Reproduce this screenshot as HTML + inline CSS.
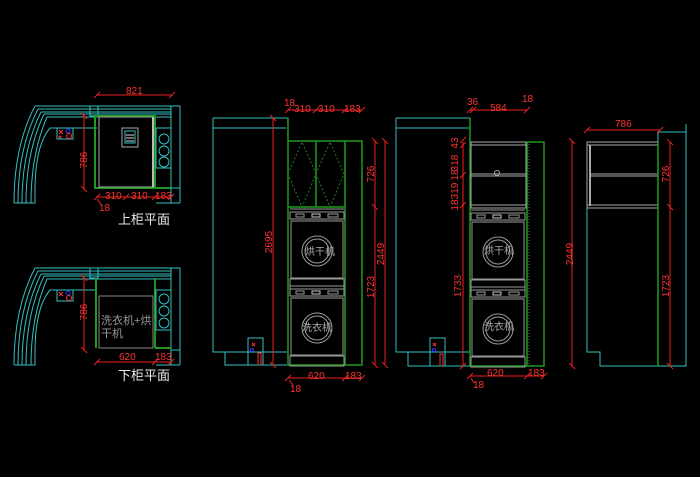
<!DOCTYPE html>
<html><head><meta charset="utf-8"><style>
html,body{margin:0;padding:0;background:#000;}
svg{display:block}
text{font-family:"Liberation Sans","Noto Sans CJK SC",sans-serif;}
</style></head><body>
<svg width="700" height="477" viewBox="0 0 700 477" xmlns="http://www.w3.org/2000/svg">
<rect width="700" height="477" fill="#000"/>
<defs>
<g id="mach" fill="none" stroke="#9a9a9a" stroke-width="1">
  <line x1="0" y1="0" x2="54" y2="0"/>
  <rect x="0" y="3" width="54" height="7"/>
  <rect x="6" y="5" width="8" height="3"/>
  <rect x="22" y="5" width="8" height="3" stroke="#ccc"/>
  <rect x="38" y="5" width="10" height="3"/>
  <rect x="1" y="12" width="52" height="57"/>
  <circle cx="27" cy="42" r="15"/>
  <circle cx="27" cy="42" r="12"/>
  <rect x="0" y="70" width="54" height="10"/>
</g>
<g id="plan" fill="none" stroke="#33c0c0" stroke-width="1">
  <path d="M35 0 H180 M38 3 H171 M41 6 H171 M44 8 H171 M47 11 H171"/>
  <line x1="171" y1="0" x2="171" y2="97"/>
  <line x1="180" y1="0" x2="180" y2="97"/>
  <line x1="156" y1="97" x2="180" y2="97"/>
  <rect x="90" y="0" width="8" height="10"/>
  <path d="M35 0 Q14 40 14 97"/>
  <path d="M38 3 Q18 42 18 97"/>
  <path d="M41 6 Q22 44 22 97"/>
  <path d="M44 8 Q26 46 26 97"/>
  <path d="M47 11 Q31 48 31 97"/>
  <path d="M14 97 H35 V85 Q35 40 50 22 H97"/>
  <rect x="57" y="22" width="16" height="11"/>
  <line x1="171" y1="82" x2="180" y2="82"/>
</g>
</defs>

<!-- Upper plan -->
<use href="#plan" x="0" y="106"/>
<g fill="none">
  <line x1="59" y1="130" x2="63" y2="134" stroke="#f33"/><line x1="63" y1="130" x2="59" y2="134" stroke="#f33"/>
  <circle cx="68" cy="131" r="2" stroke="#33f"/>
  <circle cx="69" cy="136" r="2.5" stroke="#f33"/>
  <circle cx="60" cy="137" r="1" stroke="#f33"/>
  <rect x="95" y="116" width="60" height="72" stroke="#1f9a1f" stroke-width="2"/>
  <rect x="99" y="117" width="54" height="70" stroke="#aaa"/>
  <line x1="155" y1="188" x2="171" y2="188" stroke="#1f9a1f" stroke-width="2"/>
  <line x1="153" y1="117" x2="153" y2="187" stroke="#bbb" stroke-width="2"/>
  <rect x="122" y="128" width="16" height="19" stroke="#aaa"/>
  <rect x="125" y="131" width="10" height="12" stroke="#33c0c0"/>
  <line x1="126" y1="135" x2="134" y2="135" stroke="#ddd"/><line x1="126" y1="138" x2="134" y2="138" stroke="#ddd"/><line x1="126" y1="141" x2="134" y2="141" stroke="#ddd"/>
  <rect x="156" y="128" width="15" height="40" stroke="#33c0c0"/>
  <circle cx="164" cy="139" r="5" stroke="#33c0c0"/><circle cx="164" cy="151" r="5" stroke="#33c0c0"/><circle cx="164" cy="162" r="5" stroke="#33c0c0"/>
  <g stroke="#e22">
    <line x1="97" y1="95" x2="172" y2="95"/><line x1="94" y1="98" x2="100" y2="92"/><line x1="169" y1="98" x2="175" y2="92"/>
    <line x1="84" y1="114" x2="84" y2="189"/><line x1="81" y1="113" x2="87" y2="119"/><line x1="81" y1="186" x2="87" y2="192"/>
    <line x1="96" y1="197" x2="171" y2="197"/>
    <line x1="94" y1="200" x2="100" y2="194"/><line x1="123" y1="200" x2="129" y2="194"/><line x1="152" y1="200" x2="158" y2="194"/><line x1="168" y1="200" x2="174" y2="194"/>
    <line x1="97" y1="199" x2="101" y2="204"/>
  </g>
</g>
<g fill="#f33" font-size="10">
  <text x="126" y="94">821</text>
  <text x="87" y="160" transform="rotate(-90 87 160)" text-anchor="middle">786</text>
  <text x="105" y="199">310</text><text x="131" y="199">310</text><text x="155" y="199">183</text>
  <text x="99" y="211">18</text>
</g>
<text x="118" y="224" fill="#e8e8e8" font-size="13">上柜平面</text>

<!-- Lower plan -->
<use href="#plan" x="0" y="268"/>
<g fill="none">
  <line x1="59" y1="292" x2="63" y2="296" stroke="#f33"/><line x1="63" y1="292" x2="59" y2="296" stroke="#f33"/>
  <circle cx="68" cy="293" r="2" stroke="#33f"/>
  <circle cx="69" cy="298" r="2.5" stroke="#f33"/>
  <line x1="96" y1="278" x2="96" y2="348" stroke="#1f9a1f" stroke-width="2"/>
  <line x1="155" y1="278" x2="155" y2="348" stroke="#1f9a1f" stroke-width="2"/>
  <line x1="155" y1="348" x2="171" y2="348" stroke="#1f9a1f" stroke-width="2"/>
  <rect x="99" y="296" width="54" height="52" stroke="#888"/>
  <rect x="156" y="290" width="15" height="40" stroke="#33c0c0"/>
  <circle cx="164" cy="299" r="5" stroke="#33c0c0"/><circle cx="164" cy="311" r="5" stroke="#33c0c0"/><circle cx="164" cy="323" r="5" stroke="#33c0c0"/>
  <g stroke="#e22">
    <line x1="84" y1="276" x2="84" y2="350"/><line x1="81" y1="275" x2="87" y2="281"/><line x1="81" y1="347" x2="87" y2="353"/>
    <line x1="96" y1="362" x2="171" y2="362"/>
    <line x1="94" y1="365" x2="100" y2="359"/><line x1="152" y1="365" x2="158" y2="359"/><line x1="168" y1="365" x2="174" y2="359"/>
  </g>
</g>
<g fill="#f33" font-size="10">
  <text x="87" y="312" transform="rotate(-90 87 312)" text-anchor="middle">786</text>
  <text x="119" y="360">620</text><text x="155" y="360">183</text>
</g>
<text x="101" y="324" fill="#9a9a9a" font-size="11">洗衣机+烘</text>
<text x="101" y="337" fill="#9a9a9a" font-size="11">干机</text>
<text x="118" y="380" fill="#e8e8e8" font-size="13">下柜平面</text>

<!-- Elevation 1 -->
<g fill="none">
  <g stroke="#33c0c0">
    <path d="M213 118 H288 V141 M213 128 H286 M213 118 V352 H287 M225 352 V365 H287"/>
    <rect x="248" y="338" width="15" height="27"/>
  </g>
  <line x1="252" y1="343" x2="255" y2="346" stroke="#f33"/><line x1="255" y1="343" x2="252" y2="346" stroke="#f33"/>
  <circle cx="252" cy="350" r="1.5" stroke="#33f"/>
  <path d="M258 365 V353 H261 V365" stroke="#f33"/>
  <g stroke="#1f9a1f" stroke-width="1.5">
    <path d="M288 118 V365 H362 V141 H288"/>
    <line x1="345" y1="141" x2="345" y2="365"/>
    <line x1="316" y1="141" x2="316" y2="207"/>
    <line x1="288" y1="207" x2="345" y2="207"/>
  </g>
  <path d="M288 174 L302 142 L316 174 L302 207 Z M316 174 L330 142 L344 174 L330 207 Z" stroke="#2a7a2a" stroke-dasharray="2 2"/>
  <use href="#mach" x="290" y="209"/>
  <use href="#mach" x="290" y="286"/>
  <g stroke="#e22">
    <line x1="273" y1="118" x2="273" y2="365"/><line x1="270" y1="115" x2="276" y2="121"/><line x1="270" y1="362" x2="276" y2="368"/>
    <line x1="288" y1="110" x2="362" y2="110"/>
    <line x1="285" y1="113" x2="291" y2="107"/><line x1="313" y1="113" x2="319" y2="107"/><line x1="342" y1="113" x2="348" y2="107"/><line x1="359" y1="113" x2="365" y2="107"/>
    <line x1="375" y1="141" x2="375" y2="365"/><line x1="372" y1="138" x2="378" y2="144"/><line x1="372" y1="204" x2="378" y2="210"/><line x1="372" y1="362" x2="378" y2="368"/>
    <line x1="385" y1="141" x2="385" y2="365"/><line x1="382" y1="138" x2="388" y2="144"/><line x1="382" y1="362" x2="388" y2="368"/>
    <line x1="288" y1="378" x2="362" y2="378"/>
    <line x1="285" y1="381" x2="291" y2="375"/><line x1="342" y1="381" x2="348" y2="375"/><line x1="359" y1="381" x2="365" y2="375"/>
    <line x1="289" y1="380" x2="293" y2="385"/>
  </g>
</g>
<g fill="#f33" font-size="10">
  <text x="284" y="106">18</text><text x="294" y="112">310</text><text x="318" y="112">310</text><text x="344" y="112">183</text>
  <text x="272" y="242" transform="rotate(-90 272 242)" text-anchor="middle">2695</text>
  <text x="374" y="174" transform="rotate(-90 374 174)" text-anchor="middle">726</text>
  <text x="374" y="287" transform="rotate(-90 374 287)" text-anchor="middle">1723</text>
  <text x="384" y="254" transform="rotate(-90 384 254)" text-anchor="middle">2449</text>
  <text x="308" y="379">620</text><text x="345" y="379">183</text><text x="290" y="392">18</text>
</g>
<g fill="#aaa" font-size="10"><text x="305" y="255">烘干机</text><text x="302" y="331">洗衣机</text></g>

<!-- Elevation 2 -->
<g fill="none">
  <g stroke="#33c0c0">
    <path d="M396 118 H470 V141 M396 128 H469 M396 118 V352 H470 M408 352 V366 H470"/>
    <rect x="430" y="338" width="15" height="28"/>
  </g>
  <line x1="433" y1="343" x2="436" y2="346" stroke="#f33"/><line x1="436" y1="343" x2="433" y2="346" stroke="#f33"/>
  <circle cx="434" cy="350" r="1.5" stroke="#33f"/>
  <path d="M440 366 V354 H443 V366" stroke="#f33"/>
  <g stroke="#1f9a1f" stroke-width="1.5">
    <path d="M470 118 V366 H544 V142 H527"/>
    <line x1="527" y1="142" x2="527" y2="366"/>
  </g>
  <line x1="529" y1="144" x2="529" y2="364" stroke="#1f9a1f" stroke-dasharray="1 2"/>
  <g stroke="#aaa">
    <rect x="471" y="142" width="55" height="66"/>
    <line x1="471" y1="145" x2="526" y2="145"/><line x1="471" y1="174" x2="526" y2="174"/><line x1="471" y1="176" x2="526" y2="176"/>
    <line x1="471" y1="205" x2="526" y2="205"/>
    <circle cx="497" cy="173" r="2.5"/>
  </g>
  <use href="#mach" x="471" y="210"/>
  <use href="#mach" x="471" y="287"/>
  <g stroke="#e22">
    <line x1="470" y1="110" x2="527" y2="110"/><line x1="467" y1="113" x2="473" y2="107"/><line x1="470" y1="113" x2="476" y2="107"/><line x1="524" y1="113" x2="530" y2="107"/>
    <line x1="463" y1="142" x2="463" y2="366"/>
    <line x1="460" y1="143" x2="466" y2="137"/><line x1="460" y1="148" x2="466" y2="142"/><line x1="460" y1="178" x2="466" y2="172"/><line x1="460" y1="208" x2="466" y2="202"/><line x1="460" y1="369" x2="466" y2="363"/>
    <line x1="572" y1="141" x2="572" y2="366"/><line x1="569" y1="138" x2="575" y2="144"/><line x1="569" y1="363" x2="575" y2="369"/>
    <line x1="470" y1="376" x2="544" y2="376"/><line x1="467" y1="379" x2="473" y2="373"/><line x1="524" y1="379" x2="530" y2="373"/><line x1="541" y1="379" x2="547" y2="373"/>
    <line x1="471" y1="378" x2="474" y2="383"/>
  </g>
</g>
<g fill="#f33" font-size="10">
  <text x="467" y="105">36</text><text x="490" y="111">584</text><text x="522" y="102">18</text>
  <text x="458" y="143" transform="rotate(-90 458 143)" text-anchor="middle">43</text>
  <text x="458" y="163" transform="rotate(-90 458 163)" text-anchor="middle">318</text>
  <text x="458" y="175" transform="rotate(-90 458 175)" text-anchor="middle">18</text>
  <text x="458" y="191" transform="rotate(-90 458 191)" text-anchor="middle">319</text>
  <text x="458" y="205" transform="rotate(-90 458 205)" text-anchor="middle">18</text>
  <text x="461" y="286" transform="rotate(-90 461 286)" text-anchor="middle">1733</text>
  <text x="573" y="254" transform="rotate(-90 573 254)" text-anchor="middle">2449</text>
  <text x="487" y="376">620</text><text x="528" y="376">183</text><text x="473" y="388">18</text>
</g>
<g fill="#aaa" font-size="10"><text x="484" y="254">烘干机</text><text x="484" y="330">洗衣机</text></g>

<!-- Side view -->
<g fill="none">
  <g stroke="#33c0c0">
    <path d="M587 207 V352 H600 V366 H686 V124 M658 132 H686 M658 132 V366"/>
  </g>
  <g stroke="#aaa">
    <rect x="587" y="142" width="71" height="66"/>
    <line x1="587" y1="145" x2="658" y2="145"/>
    <line x1="590" y1="145" x2="590" y2="206" stroke-width="2"/>
    <line x1="591" y1="174" x2="658" y2="174"/><line x1="591" y1="176" x2="658" y2="176"/>
    <line x1="587" y1="205" x2="658" y2="205"/>
  </g>
  <line x1="658" y1="142" x2="658" y2="366" stroke="#1f9a1f" stroke-width="1.5"/>
  <g stroke="#e22">
    <line x1="587" y1="130" x2="660" y2="130"/><line x1="584" y1="133" x2="590" y2="127"/><line x1="657" y1="133" x2="663" y2="127"/>
    <line x1="670" y1="142" x2="670" y2="366"/><line x1="667" y1="139" x2="673" y2="145"/><line x1="667" y1="204" x2="673" y2="210"/><line x1="667" y1="363" x2="673" y2="369"/>
  </g>
</g>
<g fill="#f33" font-size="10">
  <text x="615" y="127">786</text>
  <text x="669" y="174" transform="rotate(-90 669 174)" text-anchor="middle">726</text>
  <text x="669" y="286" transform="rotate(-90 669 286)" text-anchor="middle">1723</text>
</g>
</svg>
</body></html>
